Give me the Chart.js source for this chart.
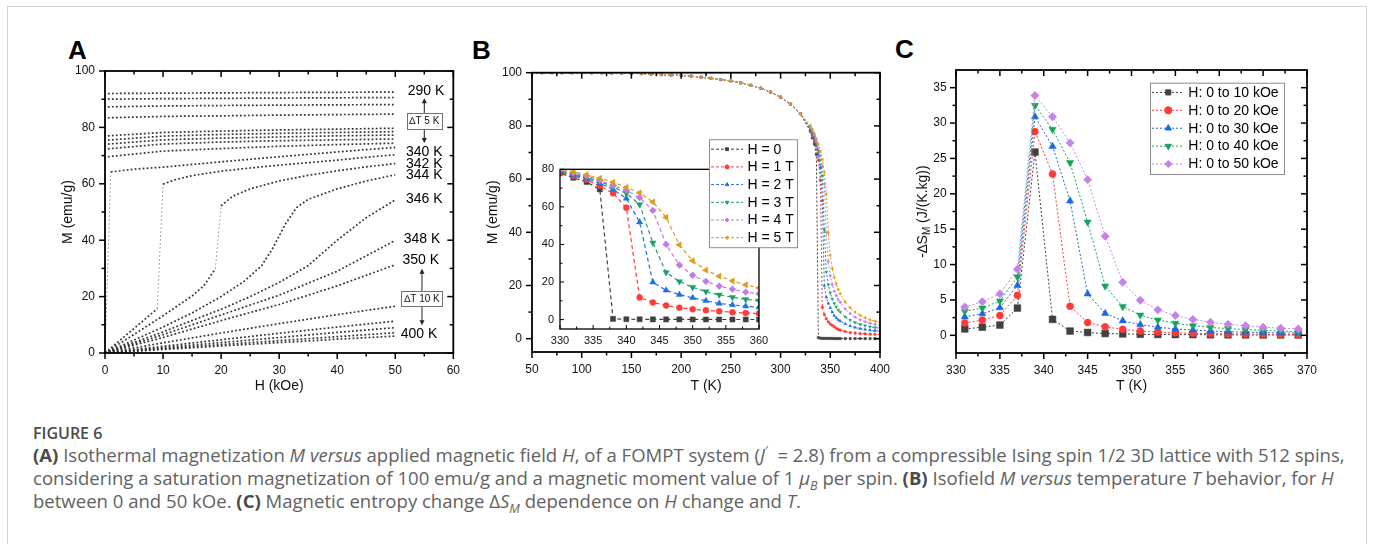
<!DOCTYPE html>
<html>
<head>
<meta charset="utf-8">
<script src="https://cdn.jsdelivr.net/npm/chart.js@4.4.1/dist/chart.umd.min.js"></script>
<style>
body{margin:0;width:1373px;height:544px;overflow:hidden;background:#fff;position:relative;font-family:'Liberation Sans',Arial,sans-serif}
#frame{position:absolute;left:7px;top:6px;width:1358px;height:600px;border:1px solid #d3d3d3}
canvas{position:absolute}
.panel{position:absolute;font:bold 26px 'Liberation Sans',Arial,sans-serif;line-height:26px;color:#000}
#caption{position:absolute;left:33px;top:421.6px;font-family:'Open Sans',sans-serif;color:#626262;white-space:nowrap}
#caption div{line-height:22.7px;height:22.7px}
#caption .fig{font-weight:600;color:#4a4a4a;font-size:16px}
#caption b{color:#4a4a4a}
#caption sup,#caption sub{line-height:0;font-size:68%}
</style>
</head>
<body>
<div id="frame"></div>
<div class="panel" style="left:68px;top:37px">A</div>
<div class="panel" style="left:472px;top:37px">B</div>
<div class="panel" style="left:895px;top:36px">C</div>

<canvas id="cA" width="450" height="370" style="left:20px;top:30px"></canvas>
<canvas id="cInset" width="260" height="210" style="left:520px;top:150px;z-index:1"></canvas>
<canvas id="cB" width="430" height="370" style="left:480px;top:30px;z-index:2"></canvas>
<canvas id="cC" width="450" height="370" style="left:890px;top:30px"></canvas>

<div id="caption">
  <div class="fig">FIGURE 6</div>
  <div class="ln" id="ln1"><b>(A)</b> Isothermal magnetization <i>M versus</i> applied magnetic field <i>H</i>, of a FOMPT system (<i>J</i><sup>′</sup>&nbsp; = 2.8) from a compressible Ising spin 1/2 3D lattice with 512 spins,</div>
  <div class="ln">considering a saturation magnetization of 100 emu/g and a magnetic moment value of 1 <i>μ<sub>B</sub></i> per spin. <b>(B)</b> Isofield <i>M versus</i> temperature <i>T</i> behavior, for <i>H</i></div>
  <div class="ln">between 0 and 50 kOe. <b>(C)</b> Magnetic entropy change Δ<i>S<sub>M</sub></i> dependence on <i>H</i> change and <i>T</i>.</div>
</div>

<script>
// ---------- Panel A: isotherms M(H) ----------
const xTicksA=[0,10,20,30,40,50,60];
const yTicksA=[0,20,40,60,80,100];
const hFerro=[0.5,10,20,30,40,50];
const m290=[92.0,92.15,92.25,92.35,92.45,92.5];
const m295=[90.0,90.2,90.3,90.4,90.5,90.6];
const m300=[87.3,87.6,87.75,87.9,88.0,88.1];
const m305=[83.4,83.9,84.1,84.35,84.55,84.7];
const m310=[77.0,78.2,78.7,79.1,79.4,79.7];
const m315=[75.5,76.9,77.5,77.9,78.2,78.5];
const m320=[74.1,75.6,76.2,76.6,77.0,77.3];
const m325=[72.4,74.1,74.8,75.3,75.6,75.9];
const m330=[69.6,71.6,72.5,73.3,73.9,74.4];
const h335=[0,1,5,10,20,30,40,50];
const m335=[0,64.2,65.2,65.9,67.8,69.6,71.3,72.9];
const h340=[0,5,9,10,12,15,20,25,30,35,40,45,50];
const m340=[0,8.7,15.7,59.9,61.4,62.9,64.5,65.6,66.6,67.5,68.4,69.4,70.3];
const h342=[0,5,10,15,17,19,20,22,25,30,35,40,45,50];
const m342=[0,6.6,13.2,20.2,23.8,29.8,52.2,55.6,58.2,61.0,63.0,64.6,66.0,67.2];
const h344=[0,5,10,15,20,24,27,29,31,33,35,40,45,50];
const m344=[0,4.6,9.2,14.2,20.0,25.5,31.0,37.5,45.5,51.6,54.5,58.2,61.0,63.2];
const h346=[0,10,20,25,30,35,40,45,50];
const m346=[0,7.5,15.5,20.0,25.0,31.0,40.0,48.0,54.3];
const hPara=[0,10,20,30,40,50];
const m348=[0,6.5,13.5,20.5,29.0,39.9];
const m350=[0,5.5,11.5,17.2,23.8,31.3];
const m360=[0,3.6,7.1,10.4,13.6,16.6];
const m370=[0,2.4,4.7,7.0,9.2,11.3];
const m380=[0,1.9,3.7,5.5,7.3,9.0];
const m390=[0,1.5,3.0,4.4,5.8,7.2];
const m400=[0,1.25,2.5,3.7,4.9,6.0];

// ---------- Panel B: M(T) at fixed field ----------
const fieldLabels=['H = 0','H = 1 T','H = 2 T','H = 3 T','H = 4 T','H = 5 T'];
const xTicksB=[50,100,150,200,250,300,350,400];
const yTicksB=[0,20,40,60,80,100];
const xTicksInset=[330,335,340,345,350,355,360];
const yTicksInset=[0,20,40,60,80];
const tLow=[50,60,70,80,90,100,110,120,130,140,150,160,170,180,190,200,210,220,230,240,250,260,270,280,290,300,310,320];
const mLow=[100,100,100,100,100,100,99.98,99.95,99.9,99.85,99.75,99.65,99.5,99.3,99.1,99.0,98.7,98.3,97.9,97.4,96.9,96.2,95.3,94.2,92.7,90.8,88.2,84.6];
const tHigh=[330,332,334,336,338,340,342,344,346,348,350,352,354,356,358,360,365,370,375,380,385,390,395,400];
const mH0=[77.9,75.5,73.2,69.3,0.4,0.2,0.15,0.1,0.1,0.1,0.08,0.08,0.07,0.06,0.06,0.05,0.05,0.05,0.04,0.04,0.03,0.03,0.03,0.02];
const mH1=[78.3,76.4,74.4,71.2,67.2,59.6,11.8,9.1,7.5,6.3,5.5,5.0,4.5,3.9,3.5,3.2,2.7,2.3,2.1,1.9,1.8,1.7,1.65,1.6];
const mH2=[78.7,77.0,75.2,72.5,69.3,64.5,51.9,19.9,15.6,13.3,11.6,10.0,8.6,7.8,7.1,6.6,5.6,4.8,4.2,3.8,3.5,3.2,3.0,2.9];
const mH3=[79.1,77.5,75.8,73.5,70.6,67.2,61.3,40.9,25.1,20.3,17.2,14.9,13.2,11.9,10.8,10.0,8.2,7.0,6.1,5.4,4.9,4.5,4.2,3.9];
const mH4=[79.6,78.1,76.5,74.1,71.5,68.8,64.9,58.1,40.0,29.0,23.6,20.3,17.8,16.2,14.6,13.7,11.2,9.4,8.1,7.1,6.4,5.8,5.4,5.0];
const mH5=[80.2,78.6,77.1,75.2,73.1,70.4,67.4,62.6,54.4,39.8,31.3,26.3,23.1,20.6,18.5,16.9,13.8,11.6,10.0,8.8,7.9,7.1,6.6,6.2];

// ---------- Panel C: -dS_M(T) ----------
const changeLabels=['H: 0 to 10 kOe','H: 0 to 20 kOe','H: 0 to 30 kOe','H: 0 to 40 kOe','H: 0 to 50 kOe'];
const xTicksC=[330,335,340,345,350,355,360,365,370];
const yTicksC=[0,5,10,15,20,25,30,35];
const tC=[331,333,335,337,339,341,343,345,347,349,351,353,355,357,359,361,363,365,367,369];
const s10=[0.9,1.15,1.45,3.85,25.9,2.25,0.6,0.4,0.25,0.2,0.15,0.12,0.1,0.1,0.08,0.07,0.06,0.05,0.05,0.05];
const s20=[1.75,2.15,2.8,5.65,28.8,22.8,4.1,1.8,1.2,0.85,0.6,0.45,0.35,0.3,0.25,0.2,0.18,0.15,0.12,0.1];
const s30=[2.6,3.05,3.9,7.05,30.9,26.7,19.0,5.85,3.1,2.05,1.5,1.15,0.9,0.75,0.6,0.5,0.45,0.4,0.35,0.3];
const s40=[3.4,3.85,4.85,8.25,32.5,29.1,24.4,16.0,6.95,4.05,2.85,2.15,1.7,1.35,1.1,0.95,0.8,0.7,0.6,0.5];
const s50=[4.0,4.75,5.85,9.35,33.9,30.9,27.2,22.0,14.0,7.5,4.95,3.6,2.8,2.25,1.85,1.55,1.35,1.15,1.0,0.9];

// labels drawn beside the isotherms of panel A (data coordinates)
const isoTags=[
  {text:'290 K',h:55.3,m:92.9},{text:'340 K',h:55.0,m:71.2},{text:'342 K',h:55.0,m:67.0},
  {text:'344 K',h:55.0,m:62.9},{text:'346 K',h:55.0,m:54.6},{text:'348 K',h:54.6,m:40.5},
  {text:'350 K',h:54.4,m:32.8},{text:'400 K',h:54.1,m:6.6}
];
const stepBoxes=[
  {text:'∆T 5 K',h:55.0,m:82.3,w:35,ht:16,up:90.3,down:74.5},
  {text:'∆T 10 K',h:54.6,m:19.2,w:41,ht:15,up:29.9,down:9.8}
];

Chart.defaults.font.family="'Liberation Sans', Arial, sans-serif";
Chart.defaults.color='#111';

const zip=(xs,ys)=>xs.map((v,i)=>({x:v,y:ys[i]}));
const setTicks=list=>s=>{s.ticks=list.map(v=>({value:v}));};

// keep the plot area's right edge where the reference has it
function pinRight(chart,right){
  for(let k=0;k<3;k++){
    const d=chart.chartArea.right-right;
    if(Math.abs(d)<0.3) break;
    chart.options.layout.padding.right+=d;
    chart.update('none');
  }
}

// frame + Origin-style tick marks
const frameTicks={
  id:'frameTicks',
  afterDatasetsDraw(chart,args,o){
    const {ctx,chartArea:a}=chart;
    const x=chart.scales.x, y=chart.scales.y;
    const line=(x1,y1,x2,y2)=>{ctx.beginPath();ctx.moveTo(x1,y1);ctx.lineTo(x2,y2);ctx.stroke();};
    const sets=s=>{
      const major=s.ticks.map(t=>t.value), minor=[];
      for(let i=0;i<major.length-1;i++) minor.push((major[i]+major[i+1])/2);
      return [[major,o.major],[minor,o.minor]];
    };
    ctx.save();
    ctx.strokeStyle='#000';
    ctx.lineWidth=o.lw;
    ctx.strokeRect(a.left,a.top,a.right-a.left,a.bottom-a.top);
    ctx.lineWidth=o.tw;
    sets(x).forEach(([vals,len])=>vals.forEach(v=>{
      if(v<x.min||v>x.max) return;
      const p=x.getPixelForValue(v);
      if(o.bottom) line(p,a.bottom,p,a.bottom+o.bottom*len);
      if(o.top) line(p,a.top,p,a.top+o.top*len);
    }));
    sets(y).forEach(([vals,len])=>vals.forEach(v=>{
      if(v<y.min||v>y.max) return;
      const p=y.getPixelForValue(v);
      if(o.left) line(a.left,p,a.left-o.left*len,p);
      if(o.right) line(a.right,p,a.right-o.right*len,p);
    }));
    ctx.restore();
  }
};

function drawLegend(chart,o){
  const {ctx,chartArea:a}=chart;
  const x0=a.left+o.dx, y0=a.top+o.dy;
  ctx.save();
  ctx.fillStyle='#fff';
  ctx.fillRect(x0,y0,o.w,o.h);
  ctx.strokeStyle='#8c8c8c';
  ctx.lineWidth=1;
  ctx.strokeRect(x0+0.5,y0+0.5,o.w,o.h);
  ctx.font=o.font;
  ctx.textBaseline='middle';
  ctx.textAlign='left';
  chart.data.datasets.forEach((ds,i)=>{
    const yy=y0+o.first+i*o.step;
    ctx.strokeStyle=ds.borderColor;
    ctx.lineWidth=1;
    ctx.setLineDash(o.dash);
    ctx.beginPath();ctx.moveTo(x0+o.l0,yy);ctx.lineTo(x0+o.l1,yy);ctx.stroke();
    ctx.setLineDash([]);
    ctx.fillStyle=ds.pointBackgroundColor;
    ctx.strokeStyle=ds.pointBorderColor;
    Chart.helpers.drawPoint(ctx,{pointStyle:ds.pointStyle,rotation:ds.pointRotation||0,radius:o.r,borderWidth:1},x0+o.mx,yy);
    ctx.fillStyle='#000';
    ctx.fillText(ds.label,x0+o.tx,yy+0.5);
  });
  ctx.restore();
}

const axisCommon=(ticks,min,max,fit,pad)=>({
  type:'linear',min:min,max:max,
  afterBuildTicks:setTicks(ticks),
  afterFit:fit,
  grid:{display:false,drawTicks:false},
  border:{display:false},
  ticks:{padding:pad,font:{size:12},color:'#111'}
});

// ---------- chart A ----------
const curvesA=[
  [hFerro,m290],[hFerro,m295],[hFerro,m300],[hFerro,m305],[hFerro,m310],[hFerro,m315],
  [hFerro,m320],[hFerro,m325],[hFerro,m330],[h335,m335],[h340,m340],[h342,m342],
  [h344,m344],[h346,m346],[hPara,m348],[hPara,m350],[hPara,m360],[hPara,m370],
  [hPara,m380],[hPara,m390],[hPara,m400]
];
const steep=c=>Math.abs(c.p1.parsed.y-c.p0.parsed.y)/Math.max(1e-6,Math.abs(c.p1.parsed.x-c.p0.parsed.x))>12;

const isoLabels={
  id:'isoLabels',
  afterDraw(chart){
    const {ctx}=chart;
    const x=chart.scales.x, y=chart.scales.y;
    ctx.save();
    ctx.fillStyle='#000';
    ctx.textAlign='center';
    ctx.textBaseline='middle';
    ctx.font="14px 'Liberation Sans', Arial, sans-serif";
    isoTags.forEach(t=>ctx.fillText(t.text,x.getPixelForValue(t.h),y.getPixelForValue(t.m)));
    stepBoxes.forEach(b=>{
      const cx=x.getPixelForValue(b.h), cy=y.getPixelForValue(b.m);
      const top=cy-b.ht/2, bot=cy+b.ht/2;
      const arrow=(y1,y2)=>{
        const d=Math.sign(y2-y1);
        ctx.strokeStyle='#222';ctx.lineWidth=1;
        ctx.beginPath();ctx.moveTo(cx,y1);ctx.lineTo(cx,y2-d*4);ctx.stroke();
        ctx.fillStyle='#222';
        ctx.beginPath();ctx.moveTo(cx,y2);ctx.lineTo(cx-2.5,y2-d*5);ctx.lineTo(cx+2.5,y2-d*5);ctx.closePath();ctx.fill();
      };
      arrow(top,y.getPixelForValue(b.up));
      arrow(bot,y.getPixelForValue(b.down));
      ctx.fillStyle='#fff';
      ctx.fillRect(cx-b.w/2,top,b.w,b.ht);
      ctx.strokeStyle='#707070';ctx.lineWidth=1;
      ctx.strokeRect(Math.round(cx-b.w/2)+0.5,Math.round(top)+0.5,b.w,b.ht);
      ctx.fillStyle='#111';
      ctx.font="10px 'Liberation Sans', Arial, sans-serif";
      ctx.fillText(b.text,cx,cy+0.5);
    });
    ctx.restore();
  }
};

const chartA=new Chart(document.getElementById('cA'),{
  type:'scatter',
  data:{datasets:curvesA.map(([h,m])=>({
    data:zip(h,m),showLine:true,borderColor:'#333',borderWidth:1.7,borderDash:[1.8,2.2],
    pointRadius:0,
    segment:{
      borderColor:c=>steep(c)?'#a0a0a0':undefined,
      borderWidth:c=>steep(c)?1:undefined
    }
  }))},
  options:{
    responsive:false,animation:false,devicePixelRatio:1,
    layout:{padding:{top:41,right:14,left:0,bottom:0}},
    plugins:{legend:{display:false},tooltip:{enabled:false},
      frameTicks:{lw:1.8,tw:1.5,major:6,minor:3.5,bottom:1,top:1,left:1,right:1}},
    scales:{
      x:Object.assign(axisCommon(xTicksA,0,60,s=>{s.height=47;},10),
        {title:{display:true,text:'H (kOe)',font:{size:14},color:'#111',padding:{top:0,bottom:5}}}),
      y:Object.assign(axisCommon(yTicksA,0,100,s=>{s.width=85;},10),
        {title:{display:true,text:'M (emu/g)',font:{size:14},color:'#111',padding:{top:40,bottom:0}}})
    }
  },
  plugins:[frameTicks,isoLabels]
});
pinRight(chartA,436);

// ---------- chart B and inset ----------
const colB=['#404040','#ff3a3a','#1f6fe5','#17a268','#c27ae6','#dd9d1c'];
const shapeB=['rect','circle','triangle','triangle','rectRot','triangle'];
const rotB=[0,0,0,180,0,270];
const seriesB=[mH0,mH1,mH2,mH3,mH4,mH5];
const tAll=tLow.concat(tHigh);

function datasetsB(radii,dash,width){
  return seriesB.map((m,i)=>({
    label:fieldLabels[i],
    data:zip(tAll,mLow.concat(m)),showLine:true,
    borderColor:colB[i],borderWidth:width,borderDash:dash,
    pointStyle:shapeB[i],pointRotation:rotB[i],pointRadius:radii[i],
    pointBackgroundColor:colB[i],pointBorderColor:colB[i],pointBorderWidth:0.5,
    order:-i
  }));
}

const chartB=new Chart(document.getElementById('cB'),{
  type:'scatter',
  data:{datasets:datasetsB([1.6,1.3,1.6,1.6,1.4,1.6],[2,2],1)},
  options:{
    responsive:false,animation:false,devicePixelRatio:1,
    layout:{padding:{top:42.7,right:30,left:0,bottom:0}},
    plugins:{legend:{display:false},tooltip:{enabled:false},
      frameTicks:{lw:1.8,tw:1.5,major:6,minor:3.5,bottom:1,top:1,left:1,right:1}},
    scales:{
      x:Object.assign(axisCommon(xTicksB,50,400,s=>{s.height=48;},10),
        {title:{display:true,text:'T (K)',font:{size:14},color:'#111',padding:{top:0,bottom:5}}}),
      y:Object.assign(axisCommon(yTicksB,-5,100,s=>{s.width=52;},10),
        {title:{display:true,text:'M (emu/g)',font:{size:14},color:'#111',padding:{top:4.6,bottom:0}}})
    }
  },
  plugins:[frameTicks,{id:'legendB',afterDraw:c=>drawLegend(c,{
    dx:177,dy:66.5,w:88,h:108,first:10,step:17.7,l0:2,l1:34,mx:18,tx:38.4,r:2,dash:[3,2],
    font:"14px 'Liberation Sans', Arial, sans-serif"})}]
});
pinRight(chartB,400);

const chartInset=new Chart(document.getElementById('cInset'),{
  type:'scatter',
  data:{datasets:datasetsB([3.6,3,3.6,3.6,3.4,3.6],[4,3],1.2)},
  options:{
    responsive:false,animation:false,devicePixelRatio:1,
    layout:{padding:{top:19.3,right:21,left:0,bottom:0}},
    plugins:{legend:{display:false},tooltip:{enabled:false},
      frameTicks:{lw:1.3,tw:1,major:4,minor:2.5,bottom:-1,top:0,left:-1,right:0}},
    scales:{
      x:Object.assign(axisCommon(xTicksInset,330,360,s=>{s.height=31;},5),{ticks:{padding:5,font:{size:11},color:'#111'}}),
      y:Object.assign(axisCommon(yTicksInset,-5,80,s=>{s.width=40;},6),{ticks:{padding:6,font:{size:11},color:'#111'}})
    }
  },
  plugins:[frameTicks]
});
pinRight(chartInset,239);

// ---------- chart C ----------
const colC=['#404040','#ff3a3a','#1b67e0','#14a35c','#c583e8'];
const shapeC=['rect','circle','triangle','triangle','rectRot'];
const rotC=[0,0,0,180,0];
const radC=[4.8,3.5,4.2,4.2,4.2];
const seriesC=[s10,s20,s30,s40,s50];

const sTitle={
  id:'sTitle',
  afterDraw(chart){
    const {ctx,chartArea:a}=chart;
    const big="14px 'Liberation Sans', Arial, sans-serif", small="10px 'Liberation Sans', Arial, sans-serif";
    const parts=[['-∆S',big,0],['M',small,4],[' (J/(K.kg))',big,0]];
    ctx.save();
    let total=0;
    parts.forEach(p=>{ctx.font=p[1];total+=ctx.measureText(p[0]).width;});
    ctx.translate(33,(a.top+a.bottom)/2);
    ctx.rotate(-Math.PI/2);
    ctx.fillStyle='#111';
    ctx.textBaseline='middle';
    let xx=-total/2;
    parts.forEach(p=>{ctx.font=p[1];ctx.fillText(p[0],xx,p[2]);xx+=ctx.measureText(p[0]).width;});
    ctx.restore();
  }
};

const chartC=new Chart(document.getElementById('cC'),{
  type:'scatter',
  data:{datasets:seriesC.map((s,i)=>({
    label:changeLabels[i],
    data:zip(tC,s),showLine:true,
    borderColor:colC[i],borderWidth:1,borderDash:[2,2],
    pointStyle:shapeC[i],pointRotation:rotC[i],pointRadius:radC[i],
    pointBackgroundColor:colC[i],pointBorderColor:colC[i],pointBorderWidth:0.5,
    order:-i
  }))},
  options:{
    responsive:false,animation:false,devicePixelRatio:1,
    layout:{padding:{top:40,right:33,left:0,bottom:0}},
    plugins:{legend:{display:false},tooltip:{enabled:false},
      frameTicks:{lw:1.8,tw:1.5,major:6,minor:3.5,bottom:1,top:1,left:1,right:1}},
    scales:{
      x:Object.assign(axisCommon(xTicksC,330,370,s=>{s.height=47;},10),
        {title:{display:true,text:'T (K)',font:{size:14},color:'#111',padding:{top:0,bottom:5}}}),
      y:axisCommon(yTicksC,-2.5,37.5,s=>{s.width=66;},9.3)
    }
  },
  plugins:[frameTicks,sTitle,{id:'legendC',afterDraw:c=>drawLegend(c,{
    dx:194,dy:12.7,w:134,h:91.3,first:9.7,step:17.9,l0:2,l1:33,mx:18.3,tx:38.3,r:3.6,dash:[2,2],
    font:"14px 'Liberation Sans', Arial, sans-serif"})}]
});
pinRight(chartC,417);

// fit the caption's first line to the reference width
const ln1=document.getElementById('ln1');
const cap=document.getElementById('caption');
cap.style.fontSize='16px';
const w=ln1.scrollWidth;
document.querySelectorAll('#caption .ln').forEach(el=>{el.style.fontSize=(16*1313/w)+'px';});
</script>
</body>
</html>
